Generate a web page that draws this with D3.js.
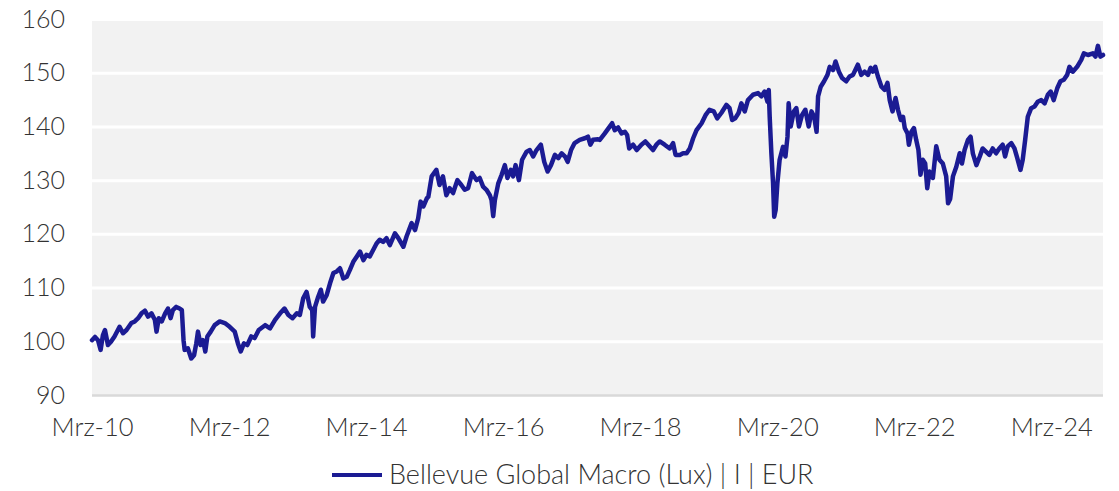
<!DOCTYPE html>
<html>
<head>
<meta charset="utf-8">
<script src="https://cdn.jsdelivr.net/npm/d3@7/dist/d3.min.js"></script>
<style>
  body { margin: 0; background: #fff; }
  text { font-family: Lato, "Open Sans", sans-serif; font-weight: 300; fill: #333; }
</style>
</head>
<body>
<svg id="chart"></svg>
<script>
const seriesName = "Bellevue Global Macro (Lux) | I | EUR";

const dates = [
  "2010-03-01","2010-03-17","2010-04-02","2010-04-16","2010-04-28","2010-05-09","2010-05-25","2010-06-10","2010-06-29","2010-07-26",
  "2010-08-13","2010-09-01","2010-09-27","2010-10-15","2010-11-02","2010-11-20","2010-12-08","2010-12-25","2011-01-12","2011-01-30",
  "2011-02-08","2011-02-20","2011-03-08","2011-03-26","2011-04-10","2011-04-24","2011-05-06","2011-05-24","2011-06-11","2011-06-23",
  "2011-07-02","2011-07-08","2011-07-25","2011-08-12","2011-08-27","2011-09-08","2011-09-17","2011-10-01","2011-10-14","2011-10-26",
  "2011-11-06","2011-11-24","2011-12-15","2012-01-11","2012-02-07","2012-03-04","2012-03-31","2012-04-17","2012-05-02","2012-05-19",
  "2012-06-06","2012-06-27","2012-07-15","2012-08-06","2012-09-09","2012-10-05","2012-11-01","2012-11-28","2012-12-21","2013-01-11",
  "2013-02-02","2013-02-25","2013-03-13","2013-03-31","2013-04-18","2013-05-05","2013-05-18","2013-05-23","2013-06-02","2013-06-19",
  "2013-07-03","2013-07-15","2013-08-03","2013-08-21","2013-09-08","2013-09-26","2013-10-13","2013-10-31","2013-11-18","2013-12-05",
  "2013-12-23","2014-01-11","2014-01-28","2014-02-15","2014-03-03","2014-03-21","2014-04-08","2014-04-26","2014-05-13","2014-05-31",
  "2014-06-18","2014-07-06","2014-08-02","2014-08-20","2014-09-16","2014-10-03","2014-10-30","2014-11-17","2014-12-04","2014-12-17",
  "2015-01-01","2015-01-19","2015-01-27","2015-02-14","2015-03-11","2015-03-28","2015-04-15","2015-05-03","2015-05-21","2015-06-08",
  "2015-07-01","2015-07-22","2015-08-09","2015-08-27","2015-09-17","2015-10-11","2015-10-28","2015-11-15","2015-12-03","2015-12-21",
  "2015-12-30","2016-01-08","2016-01-17","2016-02-04","2016-02-22","2016-03-10","2016-03-24","2016-04-11","2016-04-23","2016-05-06",
  "2016-05-24","2016-06-10","2016-07-04","2016-07-21","2016-08-08","2016-08-26","2016-09-18","2016-10-06","2016-10-24","2016-11-11",
  "2016-12-02","2016-12-20","2017-01-07","2017-01-25","2017-02-08","2017-02-26","2017-03-17","2017-04-13","2017-05-10","2017-05-27",
  "2017-06-09","2017-06-23","2017-07-20","2017-07-29","2017-08-25","2017-09-21","2017-10-03","2017-10-17","2017-11-04","2017-11-22",
  "2017-12-10","2017-12-22","2018-01-02","2018-01-23","2018-02-11","2018-03-08","2018-03-29","2018-04-21","2018-05-09","2018-05-27",
  "2018-06-14","2018-07-10","2018-08-06","2018-08-24","2018-09-06","2018-09-29","2018-10-16","2018-11-04","2018-11-21","2018-12-09",
  "2018-12-27","2019-01-23","2019-02-13","2019-03-06","2019-03-29","2019-04-16","2019-05-08","2019-06-04","2019-06-21","2019-07-05",
  "2019-07-21","2019-08-08","2019-08-23","2019-09-10","2019-09-27","2019-10-24","2019-11-20","2019-12-08","2019-12-25","2020-01-09",
  "2020-01-16","2020-01-21","2020-01-30","2020-02-08","2020-02-14","2020-02-22","2020-03-02","2020-03-14","2020-04-01","2020-04-14",
  "2020-04-25","2020-05-01","2020-05-12","2020-05-29","2020-06-11","2020-06-25","2020-07-11","2020-07-29","2020-08-16","2020-08-31",
  "2020-09-14","2020-09-27","2020-10-05","2020-10-19","2020-11-06","2020-11-24","2020-12-06","2020-12-24","2021-01-06","2021-01-24",
  "2021-02-10","2021-03-04","2021-03-22","2021-04-09","2021-05-05","2021-05-23","2021-06-10","2021-06-28","2021-07-12","2021-07-24",
  "2021-08-06","2021-08-20","2021-09-08","2021-09-25","2021-10-10","2021-10-22","2021-11-06","2021-11-22","2021-12-05","2021-12-20",
  "2022-01-01","2022-01-10","2022-01-25","2022-02-01","2022-02-15","2022-02-28","2022-03-12","2022-03-24","2022-04-04","2022-04-16",
  "2022-04-29","2022-05-10","2022-05-22","2022-06-09","2022-06-27","2022-07-14","2022-08-01","2022-08-19","2022-08-29","2022-09-09",
  "2022-09-24","2022-10-12","2022-10-30","2022-11-11","2022-11-25","2022-12-13","2022-12-27","2023-01-08","2023-01-27","2023-02-14",
  "2023-03-01","2023-03-19","2023-04-06","2023-04-24","2023-05-12","2023-05-29","2023-06-16","2023-06-29","2023-07-13","2023-08-01",
  "2023-08-18","2023-09-02","2023-09-19","2023-10-01","2023-10-14","2023-10-28","2023-11-15","2023-12-03","2023-12-20","2024-01-08",
  "2024-01-26","2024-02-12","2024-02-27","2024-03-14","2024-04-02","2024-04-19","2024-05-07","2024-05-25","2024-06-06","2024-06-24",
  "2024-07-17","2024-08-08","2024-08-22","2024-09-13","2024-10-09","2024-10-23","2024-11-05","2024-11-18","2024-12-02"
];

const values = [
  100.2,100.8,100.2,98.4,101.1,102.1,99.3,99.9,100.9,102.7,
  101.5,102.1,103.4,103.7,104.3,105.2,105.7,104.6,105.2,104.0,
  101.8,104.3,103.7,105.2,106.1,104.3,105.8,106.4,106.1,105.8,
  100.2,98.4,98.7,96.8,97.4,99.6,101.8,99.3,100.2,98.1,
  100.9,101.8,103.0,103.7,103.4,102.7,101.8,99.6,98.1,99.6,
  99.3,100.9,100.6,102.1,103.0,102.4,104.0,105.2,106.1,104.9,
  104.3,105.2,104.9,108.0,109.2,106.4,105.8,100.9,106.4,108.3,
  109.6,107.4,108.6,110.8,112.7,113.0,113.6,111.7,112.0,113.3,
  114.8,115.8,116.7,115.1,116.1,115.8,117.0,118.2,118.9,118.5,
  119.2,117.9,120.1,119.2,117.6,119.5,122.0,120.7,122.9,126.0,
  125.1,126.6,126.9,130.7,131.9,129.1,130.7,127.2,128.5,127.6,
  130.0,129.1,128.2,128.5,131.3,130.0,130.4,128.8,128.2,127.2,
  126.3,123.3,126.3,129.4,131.0,132.8,130.4,131.9,130.7,132.8,
  130.0,133.8,135.3,135.6,134.4,135.6,136.6,133.4,131.6,132.8,
  134.7,134.1,135.0,134.4,133.4,135.6,136.9,137.5,137.8,138.1,
  136.6,137.5,137.6,137.5,138.7,140.0,140.6,139.3,139.8,138.7,
  139.0,138.4,135.9,136.6,135.6,136.6,137.2,136.3,135.6,136.6,
  137.2,136.6,135.9,136.9,134.7,134.7,135.0,135.0,135.9,137.8,
  139.3,140.6,142.1,143.1,142.8,141.5,142.5,144.0,143.4,141.2,
  141.5,142.5,144.3,142.8,144.9,145.9,146.2,145.6,146.5,144.6,
  146.8,141.8,135.0,129.4,123.2,124.5,129.4,133.8,136.2,134.4,
  138.1,144.3,140.0,142.8,143.4,140.0,142.1,143.1,140.0,142.8,
  141.8,139.0,145.6,147.4,148.4,149.6,151.1,150.5,152.1,150.2,
  149.0,148.4,149.3,149.6,151.5,149.6,150.2,149.6,150.9,150.2,
  151.1,149.3,147.4,146.8,148.1,144.9,142.8,145.3,143.1,141.2,
  141.8,139.7,138.7,136.6,139.0,139.7,137.5,135.6,131.0,133.8,
  133.1,128.5,131.6,130.4,136.3,133.8,133.1,130.7,125.7,126.5,
  130.7,132.5,135.0,133.1,135.6,137.5,138.1,135.0,132.8,134.4,
  135.9,135.3,134.7,135.9,135.0,135.9,136.6,134.4,136.3,136.9,
  135.9,134.1,131.9,133.8,137.5,141.8,143.4,143.7,144.6,144.9,
  144.3,145.9,146.5,144.9,147.1,148.4,148.7,149.6,151.1,150.2,
  151.1,152.4,153.6,153.3,153.6,153.0,155.0,153.0,153.3
];

const yTicks = [90, 100, 110, 120, 130, 140, 150, 160];
const xTickDates = ["2010-03-01","2012-03-01","2014-03-01","2016-03-01","2018-03-01","2020-03-01","2022-03-01","2024-03-01"];
const xTickLabels = ["Mrz-10","Mrz-12","Mrz-14","Mrz-16","Mrz-18","Mrz-20","Mrz-22","Mrz-24"];

const width = 1119, height = 491;
const margin = { top: 19, right: 16, bottom: 96, left: 92 };
const innerW = width - margin.left - margin.right;
const innerH = height - margin.top - margin.bottom;
const lineColor = "#1b1b93";

const parse = d3.utcParse("%Y-%m-%d");
const data = dates.map((d, i) => ({ date: parse(d), value: values[i] }));

const xScale = d3.scaleUtc()
  .domain(d3.extent(data, d => d.date))
  .range([0, innerW]);

const yScale = d3.scaleLinear()
  .domain([90, 160])
  .range([innerH, 0]);

const svgEl = d3.select("#chart").attr("width", width).attr("height", height);
const svg = svgEl.append("g").attr("transform", `translate(${margin.left},${margin.top})`);

// grey plot background
svg.append("rect")
  .attr("width", innerW)
  .attr("height", innerH)
  .attr("fill", "#f2f2f2");

// horizontal grid lines with labels
const yAxis = d3.axisLeft(yScale)
  .tickValues(yTicks)
  .tickSize(-innerW)
  .tickPadding(27);
const yAxisGroup = svg.append("g").call(yAxis);
yAxisGroup.select(".domain").remove();
yAxisGroup.selectAll("line")
  .attr("stroke", d => d === 90 ? "#d9d9d9" : "#ffffff")
  .attr("stroke-width", d => d === 90 ? 2.5 : 3);
yAxisGroup.selectAll("text")
  .attr("font-size", "25px")
  .attr("fill", "#333");

// x axis labels
const xAxis = d3.axisBottom(xScale)
  .tickValues(xTickDates.map(parse))
  .tickSize(0)
  .tickFormat((d, i) => xTickLabels[i]);
const xAxisGroup = svg.append("g")
  .attr("transform", `translate(0,${innerH})`)
  .call(xAxis);
xAxisGroup.select(".domain").remove();
xAxisGroup.selectAll("text")
  .attr("font-size", "25.5px")
  .attr("fill", "#333")
  .attr("y", 23);

// the series line
const line = d3.line()
  .x(d => xScale(d.date))
  .y(d => yScale(d.value));

svg.append("path")
  .datum(data)
  .attr("fill", "none")
  .attr("stroke", lineColor)
  .attr("stroke-width", 4.5)
  .attr("stroke-linejoin", "round")
  .attr("stroke-linecap", "round")
  .attr("d", line);

// legend
const legend = svgEl.append("g").attr("transform", "translate(332,475)");
legend.append("line")
  .attr("x1", 0).attr("x2", 50)
  .attr("stroke", lineColor)
  .attr("stroke-width", 4);
legend.append("text")
  .attr("x", 57)
  .attr("dy", "0.35em")
  .attr("font-size", "27px")
  .text(seriesName);
</script>
</body>
</html>
